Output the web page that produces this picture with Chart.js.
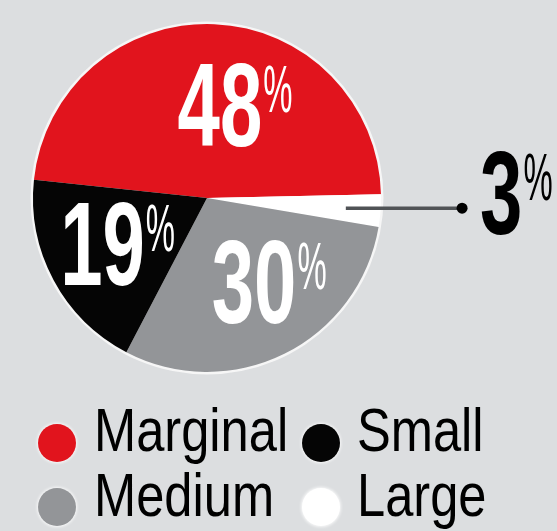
<!DOCTYPE html>
<html><head><meta charset="utf-8">
<script src="https://cdn.jsdelivr.net/npm/chart.js@4"></script>
<style>
html,body{margin:0;padding:0;background:#dcdee0;}
#wrap{position:relative;width:557px;height:531px;overflow:hidden;background:#dcdee0;}
canvas{position:absolute;left:0;top:0;}
.lg{position:absolute;font-family:"Liberation Sans",Arial,sans-serif;font-size:61px;line-height:61px;color:#000;white-space:nowrap;transform:scaleX(0.83);transform-origin:0 0;}
.dot{position:absolute;border-radius:50%;}
</style></head><body>
<div id="wrap"><canvas id="c" width="557" height="531"></canvas></div>
<script>
// ---- data ----
const categories = ['Marginal', 'Large', 'Medium', 'Small'];
const shares = [48, 3, 30, 19];
const sliceColors = ['#e1141d', '#ffffff', '#939598', '#050505'];
const labelTexts = ['48', '3', '30', '19'];
const legendOrder = ['Marginal', 'Small', 'Medium', 'Large'];

// label placement (style): inside slices by radius fraction + angular shift (deg); Large is called out
const placement = [
  {inside: true, frac: 0.548, shift: 5.4, color: '#ffffff'},
  {inside: false, color: '#000000'},
  {inside: true, frac: 0.546, shift: -3.3, color: '#ffffff'},
  {inside: true, frac: 0.653, shift: 5.1, color: '#ffffff'}
];

function drawPct(ctx, num, cx, cy, color) {
  ctx.save();
  ctx.fillStyle = color;
  ctx.textBaseline = 'alphabetic';
  ctx.textAlign = 'left';
  ctx.font = 'bold 119px "Liberation Sans", Arial, sans-serif';
  const sx = 0.64;
  const w = ctx.measureText(num).width * sx;
  const left = cx - w / 2;
  const bottom = cy + 42.5;
  ctx.save();
  ctx.translate(left, bottom);
  ctx.scale(sx, 1);
  ctx.fillText(num, 0, 0);
  ctx.restore();
  const top = bottom - 85;
  ctx.font = '67px "Liberation Sans", Arial, sans-serif';
  ctx.save();
  ctx.translate(left + w + 1, top + 51);
  ctx.scale(0.49, 1);
  ctx.fillText('%', 0, 0);
  ctx.restore();
  ctx.restore();
}

const haloPlugin = {
  id: 'halo',
  beforeDatasetsDraw(chart) {
    const arc = chart.getDatasetMeta(0).data[0];
    if (!arc) return;
    const ctx = chart.ctx;
    ctx.save();
    ctx.beginPath();
    ctx.arc(arc.x, arc.y, arc.outerRadius + 2.5, 0, Math.PI * 2);
    ctx.fillStyle = 'rgba(248,248,248,0.9)';
    ctx.fill();
    ctx.restore();
  }
};

const labelPlugin = {
  id: 'pctLabels',
  afterDatasetsDraw(chart) {
    const ctx = chart.ctx;
    const meta = chart.getDatasetMeta(0);
    meta.data.forEach((arc, i) => {
      const p = arc.getProps(['x', 'y', 'startAngle', 'endAngle', 'outerRadius'], true);
      const mid = (p.startAngle + p.endAngle) / 2;
      const pl = placement[i];
      const R = p.outerRadius;
      if (pl.inside) {
        const a = mid + pl.shift * Math.PI / 180;
        const cx = p.x + Math.cos(a) * R * pl.frac;
        const cy = p.y + Math.sin(a) * R * pl.frac;
        drawPct(ctx, labelTexts[i], cx, cy, pl.color);
      } else {
        const sx = p.x + Math.cos(mid) * R * 0.8;
        const sy = p.y + Math.sin(mid) * R * 0.8;
        const dx = p.x + R * 1.466;
        ctx.save();
        ctx.strokeStyle = '#505356';
        ctx.lineWidth = 3.5;
        ctx.beginPath();
        ctx.moveTo(sx, sy);
        ctx.lineTo(dx, sy);
        ctx.stroke();
        ctx.fillStyle = '#000';
        ctx.beginPath();
        ctx.arc(dx, sy, 5.5, 0, Math.PI * 2);
        ctx.fill();
        ctx.restore();
        ctx.save();
        ctx.font = 'bold 119px "Liberation Sans", Arial, sans-serif';
        const w = ctx.measureText(labelTexts[i]).width * 0.64;
        ctx.restore();
        drawPct(ctx, labelTexts[i], dx + 18 + w / 2, sy - 17, pl.color);
      }
    });
  }
};

new Chart(document.getElementById('c').getContext('2d'), {
  type: 'pie',
  data: {
    labels: categories,
    datasets: [{data: shares, backgroundColor: sliceColors, borderWidth: 0, hoverOffset: 0}]
  },
  options: {
    responsive: false,
    animation: false,
    devicePixelRatio: 1,
    rotation: -84,
    events: [],
    layout: {padding: {left: 33, right: 176, top: 24, bottom: 159}},
    plugins: {legend: {display: false}, tooltip: {enabled: false}}
  },
  plugins: [haloPlugin, labelPlugin]
});

// ---- legend (HTML text) ----
const wrap = document.getElementById('wrap');
const colDotX = [57, 321], colTextX = [94, 357];
const rowDotY = [443, 507], rowTextTop = [400, 465];
legendOrder.forEach((name, k) => {
  const col = k % 2, row = Math.floor(k / 2);
  const color = sliceColors[categories.indexOf(name)];
  const d = document.createElement('div');
  d.className = 'dot';
  const size = 38;
  d.style.left = (colDotX[col] - size / 2) + 'px';
  d.style.top = (rowDotY[row] - size / 2) + 'px';
  d.style.width = size + 'px';
  d.style.height = size + 'px';
  d.style.background = color;
  d.style.boxShadow = '0 0 3px 1px rgba(255,255,255,0.8)';
  wrap.appendChild(d);
  const t = document.createElement('div');
  t.className = 'lg';
  t.textContent = name;
  t.style.left = colTextX[col] + 'px';
  t.style.top = rowTextTop[row] + 'px';
  wrap.appendChild(t);
});
</script>
</body></html>
